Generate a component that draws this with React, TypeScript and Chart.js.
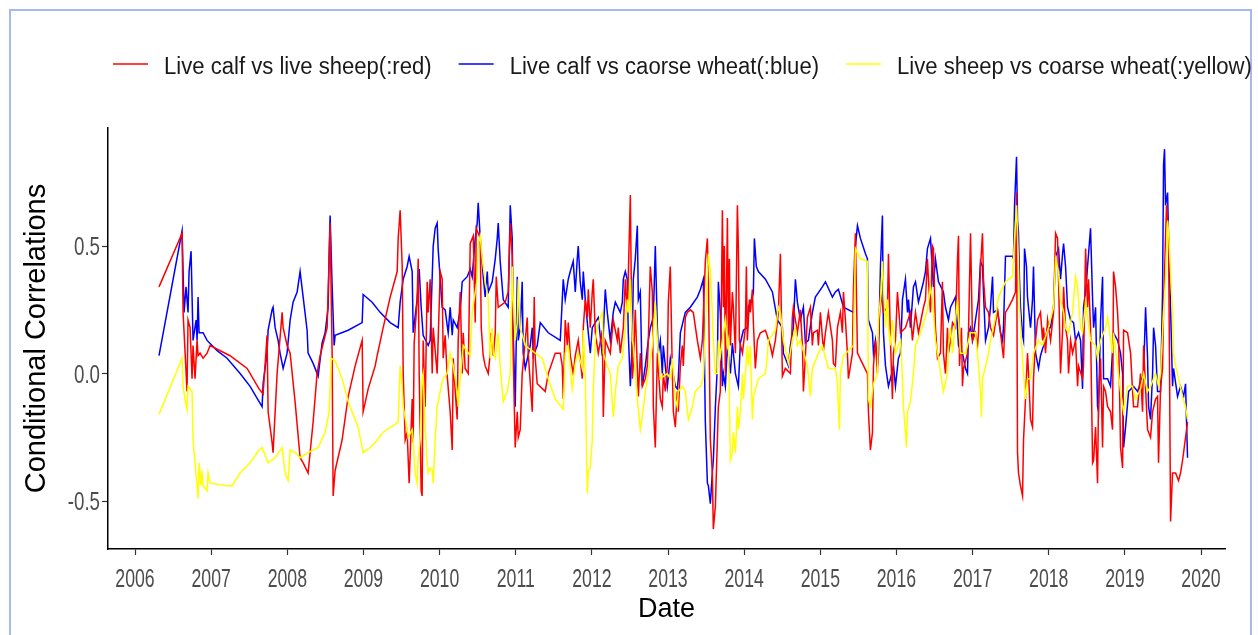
import React, { useEffect, useRef } from "react";
import { Chart, registerables } from "chart.js";

Chart.register(...registerables);

const legendLabels = [
  "Live calf vs live sheep(:red)",
  "Live calf vs caorse wheat(:blue)",
  "Live sheep vs coarse wheat(:yellow)",
];
const seriesColors = ["#ff0000", "#0000ff", "#ffff00"];
const xTickYears = [2006, 2007, 2008, 2009, 2010, 2011, 2012, 2013, 2014, 2015, 2016, 2017, 2018, 2019, 2020];
const yTickValues = [-0.5, 0, 0.5];

// Live calf vs live sheep (red)
const redDates = [
  2006.315, 2006.618, 2006.631, 2006.683, 2006.696, 2006.723, 2006.749, 2006.762, 2006.788, 2006.815, 2006.828, 2006.854, 2006.894, 2006.946, 2006.986,
  2007.248, 2007.472, 2007.629, 2007.682, 2007.734, 2007.748, 2007.8, 2007.813, 2007.866, 2007.932, 2007.945, 2007.997,
  2008.037, 2008.102, 2008.168, 2008.208, 2008.273, 2008.339, 2008.391, 2008.431, 2008.523, 2008.562, 2008.589, 2008.602, 2008.628, 2008.72, 2008.799, 2008.891, 2008.983, 2008.996,
  2009.062, 2009.154, 2009.18, 2009.259, 2009.351, 2009.443, 2009.456, 2009.482, 2009.509, 2009.522, 2009.548, 2009.574, 2009.6, 2009.64, 2009.653, 2009.666, 2009.705, 2009.719, 2009.732, 2009.758, 2009.771, 2009.784, 2009.811, 2009.837, 2009.85, 2009.876, 2009.903, 2009.916, 2009.968, 2009.981,
  2010.008, 2010.034, 2010.047, 2010.073, 2010.1, 2010.139, 2010.166, 2010.179, 2010.205, 2010.231, 2010.244, 2010.271, 2010.297, 2010.31, 2010.336, 2010.376, 2010.402, 2010.442, 2010.468, 2010.481, 2010.534, 2010.547, 2010.573, 2010.599, 2010.639, 2010.665, 2010.678, 2010.705, 2010.731, 2010.744, 2010.77, 2010.862, 2010.901, 2010.928, 2010.954, 2010.967, 2010.993,
  2011.02, 2011.033, 2011.059, 2011.085, 2011.125, 2011.151, 2011.164, 2011.217, 2011.243, 2011.256, 2011.282, 2011.387, 2011.427, 2011.519, 2011.585, 2011.611, 2011.624, 2011.65, 2011.677, 2011.69, 2011.716, 2011.755, 2011.782, 2011.821, 2011.874, 2011.887, 2011.913, 2011.94, 2011.953, 2011.979,
  2012.005, 2012.018, 2012.045, 2012.084, 2012.137, 2012.15, 2012.176, 2012.242, 2012.281, 2012.334, 2012.347, 2012.373, 2012.413, 2012.439, 2012.465, 2012.478, 2012.505, 2012.531, 2012.544, 2012.57, 2012.597, 2012.61, 2012.636, 2012.662, 2012.702, 2012.728, 2012.741, 2012.767, 2012.794, 2012.807, 2012.833, 2012.86, 2012.873, 2012.899, 2012.925, 2012.938, 2012.965, 2012.991,
  2013.004, 2013.03, 2013.057, 2013.07, 2013.096, 2013.122, 2013.135, 2013.162, 2013.188, 2013.201, 2013.227, 2013.254, 2013.293, 2013.332, 2013.385, 2013.425, 2013.451, 2013.49, 2013.517, 2013.53, 2013.556, 2013.582, 2013.595, 2013.622, 2013.648, 2013.661, 2013.687, 2013.714, 2013.727, 2013.74, 2013.753, 2013.78, 2013.793, 2013.806, 2013.819, 2013.845, 2013.858, 2013.885, 2013.911, 2013.924, 2013.937, 2013.977,
  2014.016, 2014.029, 2014.042, 2014.069, 2014.082, 2014.108, 2014.121, 2014.147, 2014.174, 2014.213, 2014.279, 2014.344, 2014.371, 2014.41, 2014.449, 2014.476, 2014.502, 2014.541, 2014.607, 2014.633, 2014.646, 2014.673, 2014.699, 2014.738, 2014.765, 2014.778, 2014.804, 2014.83, 2014.87, 2014.896, 2014.909, 2014.962, 2014.975,
  2015.001, 2015.041, 2015.067, 2015.106, 2015.159, 2015.172, 2015.198, 2015.225, 2015.264, 2015.29, 2015.304, 2015.33, 2015.356, 2015.369, 2015.396, 2015.422, 2015.435, 2015.461, 2015.488, 2015.553, 2015.619, 2015.632, 2015.658, 2015.685, 2015.698, 2015.724, 2015.75, 2015.763, 2015.79, 2015.829, 2015.882, 2015.895, 2015.921, 2015.947, 2015.961, 2015.987,
  2016.013, 2016.053, 2016.118, 2016.184, 2016.21, 2016.25, 2016.289, 2016.355, 2016.381, 2016.407, 2016.42, 2016.447, 2016.473, 2016.486, 2016.512, 2016.539, 2016.578, 2016.604, 2016.617, 2016.644, 2016.67, 2016.683, 2016.71, 2016.736, 2016.775, 2016.802, 2016.815, 2016.828, 2016.854, 2016.867, 2016.881, 2016.933, 2016.946, 2016.973, 2016.999,
  2017.038, 2017.065, 2017.078, 2017.104, 2017.13, 2017.143, 2017.17, 2017.209, 2017.235, 2017.275, 2017.327, 2017.367, 2017.406, 2017.432, 2017.472, 2017.524, 2017.564, 2017.577, 2017.59, 2017.603, 2017.629, 2017.656, 2017.669, 2017.695, 2017.721, 2017.735, 2017.761, 2017.787, 2017.8, 2017.827, 2017.853, 2017.892, 2017.919, 2017.932, 2017.958, 2017.985,
  2018.024, 2018.063, 2018.09, 2018.116, 2018.129, 2018.155, 2018.182, 2018.195, 2018.221, 2018.247, 2018.26, 2018.287, 2018.313, 2018.352, 2018.379, 2018.392, 2018.444, 2018.457, 2018.484, 2018.51, 2018.523, 2018.549, 2018.576, 2018.589, 2018.615, 2018.641, 2018.654, 2018.681, 2018.707, 2018.72, 2018.746, 2018.773, 2018.812, 2018.838, 2018.851, 2018.878, 2018.904, 2018.917, 2018.943, 2018.97, 2018.983,
  2019.035, 2019.075, 2019.101, 2019.114, 2019.167, 2019.206, 2019.232, 2019.246, 2019.272, 2019.298, 2019.337, 2019.364, 2019.403, 2019.429, 2019.442, 2019.469, 2019.495, 2019.508, 2019.534, 2019.547, 2019.574, 2019.587, 2019.6, 2019.626, 2019.666, 2019.705, 2019.731, 2019.758, 2019.784, 2019.823,
];
const redValues = [
  0.34, 0.55, 0.24, -0.07, 0.21, 0.18, -0.02, 0.11, -0.02, 0.13, 0.07, 0.08, 0.06, 0.08, 0.11,
  0.07, 0.02, -0.06, -0.08, 0.15, -0.15, -0.27, -0.31, 0.0, 0.24, 0.18, 0.11,
  0.08, -0.11, -0.33, -0.35, -0.39, -0.19, 0.0, 0.07, 0.18, 0.59, 0.07, -0.48, -0.38, -0.26, -0.09, 0.03, 0.13, -0.15,
  -0.06, 0.03, 0.07, 0.18, 0.3, 0.4, 0.53, 0.64, 0.42, 0.0, -0.26, -0.23, -0.43, -0.1, -0.27, 0.12, 0.29, 0.45, 0.0, -0.46, -0.48, 0.13, -0.13, 0.36, 0.24, 0.37, 0.0, 0.18, 0.0, 0.13,
  0.4, 0.37, 0.06, 0.15, -0.01, -0.15, -0.3, 0.06, -0.07, -0.18, 0.13, 0.32, 0.0, 0.16, 0.02, 0.0, 0.51, 0.54, 0.2, 0.57, 0.53, 0.18, 0.07, 0.03, 0.0, 0.08, 0.16, 0.07, 0.16, 0.38, 0.26, 0.28, 0.32, 0.59, 0.46, 0.07, -0.29,
  -0.15, -0.25, -0.22, 0.0, 0.13, 0.22, 0.08, -0.15, 0.3, 0.06, -0.04, -0.07, 0.0, 0.08, 0.08, 0.03, -0.1, 0.21, 0.11, 0.2, 0.07, 0.0, 0.07, 0.13, -0.02, 0.18, 0.29, 0.22, 0.33, 0.18,
  0.32, 0.37, 0.16, 0.08, 0.17, -0.17, 0.13, 0.08, 0.21, 0.13, 0.18, 0.08, 0.18, 0.37, 0.24, 0.38, 0.7, -0.02, 0.03, 0.25, 0.02, -0.09, 0.08, -0.05, -0.02, 0.03, 0.13, 0.42, 0.32, -0.13, -0.29, 0.08, 0.02, -0.1, -0.13, 0.0, -0.07, 0.03,
  0.28, 0.42, 0.0, -0.15, -0.21, -0.07, -0.15, 0.03, 0.11, 0.03, 0.22, 0.24, 0.25, 0.24, 0.13, 0.06, 0.13, 0.44, 0.53, 0.37, -0.26, -0.39, -0.61, -0.52, -0.26, -0.13, -0.07, 0.64, 0.26, 0.5, 0.0, 0.61, 0.13, 0.45, 0.11, 0.32, 0.26, 0.08, 0.66, 0.49, 0.13, 0.08,
  0.18, 0.42, 0.13, 0.29, 0.24, 0.33, 0.2, 0.02, 0.13, 0.16, 0.17, 0.11, 0.07, 0.13, 0.24, 0.47, -0.01, 0.02, 0.0, 0.22, 0.26, 0.21, 0.16, 0.25, 0.11, -0.07, 0.07, 0.22, 0.26, 0.11, 0.16, 0.17, 0.11,
  0.24, 0.09, 0.16, 0.24, 0.13, 0.04, 0.03, 0.18, 0.24, 0.16, 0.32, 0.21, 0.08, -0.02, 0.03, 0.08, 0.33, 0.55, 0.08, 0.04, 0.0, -0.15, -0.3, -0.23, 0.03, 0.13, 0.0, 0.13, 0.32, 0.24, 0.26, 0.47, 0.13, -0.1, 0.08, 0.13,
  0.32, 0.16, 0.18, 0.24, 0.13, 0.24, 0.16, 0.26, 0.29, 0.45, 0.37, 0.24, 0.5, 0.49, 0.18, 0.06, 0.08, 0.36, 0.08, 0.0, 0.18, 0.08, 0.13, 0.2, 0.18, 0.45, 0.54, 0.03, 0.18, -0.05, 0.02, 0.08, 0.16, 0.55, 0.13,
  0.16, 0.11, 0.16, 0.42, 0.55, 0.37, 0.26, 0.24, 0.18, 0.15, 0.25, 0.16, 0.06, 0.24, 0.26, 0.29, 0.32, 0.71, -0.31, -0.39, -0.44, -0.48, -0.26, -0.1, 0.08, 0.0, -0.18, -0.21, -0.02, 0.13, 0.21, 0.24, 0.13, 0.18, 0.08, 0.21,
  0.13, 0.24, 0.55, 0.53, 0.37, 0.0, 0.17, 0.34, 0.18, 0.13, 0.0, 0.13, 0.08, 0.13, -0.05, 0.03, -0.02, 0.03, 0.49, 0.26, 0.37, 0.18, -0.35, -0.34, -0.21, -0.43, -0.1, 0.06, -0.29, -0.05, -0.07, -0.13, -0.15, -0.22, 0.4, 0.34, 0.24, 0.16, -0.29, -0.37, 0.17,
  0.16, 0.08, -0.07, -0.13, -0.13, 0.0, -0.15, 0.11, -0.06, -0.22, -0.25, -0.15, -0.1, -0.09, -0.35, -0.05, 0.02, 0.26, 0.53, 0.66, 0.53, 0.0, -0.58, -0.39, -0.39, -0.42, -0.39, -0.34, -0.28, -0.19,
];

// Live calf vs coarse wheat (blue)
const blueDates = [
  2006.315, 2006.618, 2006.644, 2006.67, 2006.696, 2006.71, 2006.736, 2006.762, 2006.802, 2006.815, 2006.828, 2006.841, 2006.894, 2006.946,
  2007.012, 2007.078, 2007.209, 2007.38, 2007.511, 2007.629, 2007.669, 2007.682, 2007.734, 2007.748, 2007.8, 2007.813, 2007.84, 2007.879, 2007.905, 2007.945, 2007.997,
  2008.037, 2008.076, 2008.129, 2008.168, 2008.208, 2008.26, 2008.273, 2008.339, 2008.405, 2008.457, 2008.497, 2008.536, 2008.549, 2008.562, 2008.589, 2008.615, 2008.628, 2008.799, 2008.983, 2008.996,
  2009.114, 2009.219, 2009.351, 2009.456, 2009.482, 2009.522, 2009.574, 2009.6, 2009.64, 2009.653, 2009.705, 2009.732, 2009.758, 2009.784, 2009.85, 2009.876, 2009.916, 2009.942, 2009.968, 2009.981,
  2010.008, 2010.034, 2010.073, 2010.113, 2010.139, 2010.166, 2010.179, 2010.231, 2010.271, 2010.297, 2010.363, 2010.402, 2010.428, 2010.468, 2010.494, 2010.507, 2010.534, 2010.573, 2010.599, 2010.626, 2010.639, 2010.691, 2010.731, 2010.757, 2010.77, 2010.796, 2010.836, 2010.901, 2010.928, 2010.954, 2010.967, 2010.993,
  2011.02, 2011.033, 2011.059, 2011.085, 2011.098, 2011.125, 2011.19, 2011.217, 2011.23, 2011.282, 2011.322, 2011.427, 2011.585, 2011.611, 2011.624, 2011.65, 2011.69, 2011.716, 2011.755, 2011.782, 2011.808, 2011.821, 2011.847, 2011.874, 2011.887, 2011.913, 2011.94, 2011.979,
  2012.005, 2012.084, 2012.137, 2012.176, 2012.202, 2012.242, 2012.281, 2012.308, 2012.373, 2012.4, 2012.413, 2012.439, 2012.465, 2012.478, 2012.505, 2012.531, 2012.544, 2012.57, 2012.597, 2012.61, 2012.636, 2012.662, 2012.702, 2012.741, 2012.767, 2012.807, 2012.833, 2012.86, 2012.873, 2012.899, 2012.925, 2012.938, 2012.991,
  2013.03, 2013.096, 2013.122, 2013.135, 2013.162, 2013.227, 2013.293, 2013.385, 2013.425, 2013.464, 2013.49, 2013.517, 2013.53, 2013.556, 2013.582, 2013.595, 2013.622, 2013.648, 2013.661, 2013.687, 2013.714, 2013.727, 2013.753, 2013.78, 2013.819, 2013.845, 2013.885, 2013.924, 2013.95, 2013.99,
  2014.042, 2014.055, 2014.108, 2014.121, 2014.134, 2014.16, 2014.187, 2014.279, 2014.371, 2014.436, 2014.502, 2014.515, 2014.581, 2014.607, 2014.646, 2014.673, 2014.699, 2014.738, 2014.778, 2014.804, 2014.843, 2014.896, 2014.935,
  2015.027, 2015.067, 2015.159, 2015.198, 2015.238, 2015.304, 2015.435, 2015.461, 2015.488, 2015.527, 2015.593, 2015.619, 2015.632, 2015.685, 2015.698, 2015.724, 2015.75, 2015.763, 2015.79, 2015.816, 2015.829, 2015.856, 2015.895, 2015.921, 2015.961, 2015.987,
  2016.026, 2016.053, 2016.079, 2016.118, 2016.145, 2016.158, 2016.184, 2016.223, 2016.25, 2016.289, 2016.355, 2016.381, 2016.407, 2016.447, 2016.473, 2016.486, 2016.512, 2016.552, 2016.617, 2016.644, 2016.683, 2016.71, 2016.775, 2016.802, 2016.815, 2016.867, 2016.907, 2016.933, 2016.946, 2016.973, 2016.999,
  2017.038, 2017.078, 2017.104, 2017.13, 2017.143, 2017.17, 2017.209, 2017.235, 2017.262, 2017.275, 2017.327, 2017.367, 2017.393, 2017.406, 2017.432, 2017.524, 2017.537, 2017.551, 2017.577, 2017.59, 2017.603, 2017.616, 2017.629, 2017.656, 2017.669, 2017.682, 2017.708, 2017.721, 2017.761, 2017.787, 2017.8, 2017.827, 2017.866, 2017.892, 2017.932, 2017.985,
  2018.024, 2018.063, 2018.09, 2018.129, 2018.155, 2018.182, 2018.195, 2018.221, 2018.247, 2018.287, 2018.326, 2018.352, 2018.392, 2018.418, 2018.444, 2018.457, 2018.484, 2018.51, 2018.549, 2018.576, 2018.589, 2018.615, 2018.641, 2018.654, 2018.681, 2018.707, 2018.72, 2018.773, 2018.812, 2018.851, 2018.904, 2018.943, 2018.97, 2018.983,
  2019.009, 2019.049, 2019.114, 2019.167, 2019.246, 2019.272, 2019.298, 2019.311, 2019.337, 2019.364, 2019.377, 2019.403, 2019.429, 2019.469, 2019.495, 2019.508, 2019.521, 2019.534, 2019.561, 2019.574, 2019.6, 2019.626, 2019.639, 2019.692, 2019.731, 2019.771, 2019.797, 2019.81, 2019.823,
];
const blueValues = [
  0.07, 0.56, 0.24, 0.34, 0.24, 0.4, 0.48, 0.13, 0.21, 0.13, 0.3, 0.16, 0.16, 0.13,
  0.11, 0.09, 0.06, 0.0, -0.05, -0.11, -0.13, -0.04, 0.08, 0.17, 0.25, 0.26, 0.18, 0.13, 0.08, 0.02, 0.08,
  0.21, 0.28, 0.32, 0.4, 0.3, 0.17, 0.08, 0.04, -0.01, 0.12, 0.16, 0.26, 0.46, 0.62, 0.34, 0.11, 0.15, 0.17, 0.2, 0.31,
  0.28, 0.24, 0.2, 0.18, 0.28, 0.37, 0.42, 0.46, 0.4, 0.16, 0.29, 0.41, 0.26, 0.15, 0.11, 0.13, 0.5, 0.57, 0.59, 0.49,
  0.37, 0.26, 0.25, 0.16, 0.26, 0.15, 0.21, 0.18, 0.25, 0.36, 0.38, 0.41, 0.38, 0.53, 0.59, 0.67, 0.53, 0.38, 0.3, 0.4, 0.32, 0.36, 0.45, 0.53, 0.59, 0.44, 0.29, 0.26, 0.66, 0.53, 0.16, -0.13,
  0.38, 0.13, 0.18, 0.36, 0.08, 0.02, 0.11, 0.18, 0.07, 0.11, 0.2, 0.16, 0.13, 0.29, 0.37, 0.29, 0.37, 0.4, 0.44, 0.32, 0.45, 0.5, 0.36, 0.29, 0.4, 0.29, 0.2, 0.08,
  0.18, 0.22, 0.07, 0.33, 0.24, 0.13, 0.24, 0.28, 0.24, 0.28, 0.37, 0.4, 0.37, 0.16, -0.05, 0.13, 0.37, 0.45, 0.58, 0.29, 0.32, -0.05, 0.03, 0.13, 0.18, 0.22, 0.5, 0.18, 0.08, 0.13, 0.0, 0.11, -0.05,
  0.06, -0.05, -0.06, -0.02, 0.16, 0.24, 0.26, 0.3, 0.33, 0.37, -0.19, -0.43, -0.44, -0.51, -0.39, -0.34, -0.13, 0.03, 0.36, 0.24, -0.05, 0.0, -0.05, 0.11, 0.0, 0.12, 0.0, -0.05, 0.12, 0.17,
  0.18, 0.26, 0.3, 0.32, 0.53, 0.42, 0.4, 0.37, 0.32, 0.21, 0.18, 0.08, 0.03, 0.11, 0.18, 0.37, 0.28, 0.21, 0.26, 0.12, 0.13, 0.24, 0.3,
  0.34, 0.36, 0.3, 0.32, 0.33, 0.26, 0.24, 0.5, 0.58, 0.53, 0.47, 0.45, 0.21, 0.16, 0.08, 0.13, 0.03, 0.07, 0.42, 0.62, 0.16, 0.03, -0.05, -0.02, 0.03, -0.05,
  0.06, 0.08, 0.29, 0.37, 0.24, 0.29, 0.18, 0.34, 0.36, 0.28, 0.36, 0.4, 0.49, 0.53, 0.4, 0.34, 0.45, 0.36, 0.32, 0.26, 0.21, 0.26, 0.3, 0.18, 0.11, 0.08, 0.02, 0.0, 0.16, 0.18, 0.13,
  0.21, 0.29, 0.44, 0.42, 0.32, 0.13, 0.18, 0.26, 0.38, 0.24, 0.25, 0.16, 0.13, 0.18, 0.46, 0.46, 0.45, 0.66, 0.85, 0.6, 0.55, 0.37, 0.26, 0.15, 0.13, 0.49, 0.42, 0.3, 0.18, 0.29, 0.42, 0.08, 0.02, 0.07, 0.11, 0.18,
  0.18, 0.26, 0.46, 0.49, 0.37, 0.47, 0.51, 0.42, 0.26, 0.21, 0.2, 0.13, 0.16, 0.13, -0.06, 0.26, 0.32, 0.42, 0.57, 0.29, 0.18, 0.26, -0.13, -0.15, 0.21, 0.38, -0.02, -0.02, -0.05, 0.16, 0.13, 0.08, 0.0, -0.29,
  -0.21, -0.07, -0.05, -0.07, 0.0, 0.26, 0.06, -0.13, -0.18, 0.0, 0.18, 0.11, -0.07, -0.07, 0.32, 0.82, 0.88, 0.66, 0.71, 0.53, 0.26, -0.05, 0.02, -0.09, -0.05, -0.09, -0.04, -0.19, -0.33,
];

// Live sheep vs coarse wheat (yellow)
const yellowDates = [
  2006.315, 2006.618, 2006.631, 2006.657, 2006.683, 2006.696, 2006.749, 2006.762, 2006.788, 2006.815, 2006.828, 2006.841, 2006.867, 2006.88, 2006.894, 2006.946, 2006.959, 2006.986,
  2007.209, 2007.275, 2007.38, 2007.511, 2007.629, 2007.669, 2007.748, 2007.84, 2007.932, 2007.971,
  2008.011, 2008.037, 2008.102, 2008.168, 2008.273, 2008.405, 2008.497, 2008.549, 2008.576, 2008.628, 2008.72, 2008.799, 2008.93, 2008.996,
  2009.088, 2009.154, 2009.259, 2009.456, 2009.482, 2009.509, 2009.522, 2009.574, 2009.587, 2009.64, 2009.653, 2009.679, 2009.705, 2009.719, 2009.745, 2009.771, 2009.784, 2009.811, 2009.837, 2009.85, 2009.876, 2009.903, 2009.916, 2009.942, 2009.968,
  2010.008, 2010.047, 2010.1, 2010.139, 2010.179, 2010.231, 2010.244, 2010.271, 2010.31, 2010.402, 2010.428, 2010.494, 2010.507, 2010.534, 2010.56, 2010.599, 2010.639, 2010.665, 2010.691, 2010.705, 2010.731, 2010.77, 2010.796, 2010.836, 2010.888, 2010.928, 2010.954, 2010.967, 2010.993,
  2011.02, 2011.033, 2011.059, 2011.125, 2011.256, 2011.348, 2011.427, 2011.519, 2011.624, 2011.65, 2011.69, 2011.742, 2011.782, 2011.821, 2011.874, 2011.887, 2011.913, 2011.94, 2011.953, 2011.979,
  2012.005, 2012.018, 2012.045, 2012.084, 2012.137, 2012.15, 2012.202, 2012.242, 2012.281, 2012.308, 2012.347, 2012.4, 2012.439, 2012.465, 2012.478, 2012.505, 2012.531, 2012.544, 2012.57, 2012.597, 2012.636, 2012.662, 2012.702, 2012.741, 2012.794, 2012.833, 2012.86, 2012.899, 2012.991,
  2013.03, 2013.057, 2013.096, 2013.122, 2013.135, 2013.188, 2013.227, 2013.267, 2013.319, 2013.359, 2013.425, 2013.464, 2013.517, 2013.53, 2013.556, 2013.582, 2013.595, 2013.622, 2013.648, 2013.661, 2013.687, 2013.727, 2013.753, 2013.78, 2013.793, 2013.819, 2013.845, 2013.858, 2013.885, 2013.911, 2013.924, 2013.95, 2013.977, 2013.99,
  2014.016, 2014.042, 2014.055, 2014.082, 2014.108, 2014.121, 2014.187, 2014.279, 2014.305, 2014.318, 2014.41, 2014.449, 2014.476, 2014.515, 2014.581, 2014.633, 2014.673, 2014.699, 2014.738, 2014.804, 2014.83, 2014.87, 2014.896, 2014.975,
  2015.027, 2015.106, 2015.198, 2015.225, 2015.251, 2015.264, 2015.304, 2015.435, 2015.461, 2015.527, 2015.619, 2015.632, 2015.658, 2015.698, 2015.75, 2015.763, 2015.79, 2015.816, 2015.829, 2015.856, 2015.882, 2015.895, 2015.921, 2015.947, 2015.987,
  2016.053, 2016.079, 2016.092, 2016.118, 2016.131, 2016.145, 2016.184, 2016.223, 2016.25, 2016.315, 2016.407, 2016.447, 2016.473, 2016.512, 2016.552, 2016.617, 2016.67, 2016.683, 2016.71, 2016.736, 2016.775, 2016.802, 2016.841, 2016.907, 2016.973,
  2017.038, 2017.078, 2017.104, 2017.117, 2017.13, 2017.196, 2017.235, 2017.301, 2017.34, 2017.432, 2017.524, 2017.551, 2017.577, 2017.59, 2017.603, 2017.616, 2017.656, 2017.695, 2017.721, 2017.761, 2017.8, 2017.866, 2017.919, 2017.997,
  2018.063, 2018.09, 2018.129, 2018.155, 2018.195, 2018.221, 2018.26, 2018.313, 2018.352, 2018.379, 2018.418, 2018.444, 2018.484, 2018.549, 2018.615, 2018.641, 2018.681, 2018.746, 2018.773, 2018.838, 2018.851, 2018.904, 2018.943, 2018.983,
  2019.035, 2019.101, 2019.14, 2019.206, 2019.246, 2019.298, 2019.337, 2019.403, 2019.442, 2019.469, 2019.495, 2019.508, 2019.534, 2019.561, 2019.574, 2019.6, 2019.626, 2019.639, 2019.666, 2019.705, 2019.758, 2019.797, 2019.823,
];
const yellowValues = [
  -0.16, 0.06, -0.05, -0.1, -0.14, -0.05, -0.07, -0.26, -0.35, -0.44, -0.49, -0.35, -0.44, -0.38, -0.44, -0.46, -0.39, -0.43,
  -0.44, -0.44, -0.39, -0.35, -0.3, -0.29, -0.35, -0.33, -0.29, -0.39,
  -0.42, -0.3, -0.31, -0.33, -0.31, -0.29, -0.23, -0.15, 0.06, 0.05, -0.02, -0.11, -0.21, -0.31,
  -0.29, -0.27, -0.23, -0.19, 0.03, -0.05, -0.13, -0.22, -0.25, -0.22, -0.26, -0.39, -0.43, -0.33, -0.26, -0.02, 0.0, -0.21, -0.35, -0.39, -0.37, -0.38, -0.43, -0.26, -0.13,
  -0.07, -0.02, 0.0, 0.08, 0.03, -0.07, -0.13, -0.02, 0.11, 0.07, 0.24, 0.37, 0.51, 0.54, 0.45, 0.36, 0.29, 0.06, 0.18, 0.08, 0.06, 0.16, 0.03, -0.11, -0.07, 0.0, 0.42, 0.29, 0.13,
  0.2, 0.37, 0.18, 0.11, 0.08, 0.06, -0.02, -0.1, -0.14, 0.08, 0.11, -0.06, 0.04, 0.08, 0.02, 0.17, 0.0, -0.47, -0.38, -0.37,
  -0.26, -0.07, 0.13, 0.2, 0.24, 0.08, 0.03, 0.0, -0.17, -0.07, 0.03, 0.06, 0.17, 0.29, 0.24, 0.37, 0.13, 0.11, 0.0, -0.1, -0.22, -0.17, -0.07, 0.0, 0.11, 0.28, 0.13, -0.02, 0.0,
  -0.02, 0.06, -0.1, -0.13, -0.07, -0.05, -0.07, -0.18, -0.13, -0.07, -0.05, -0.02, 0.37, 0.47, 0.4, 0.24, 0.13, 0.0, 0.0, 0.13, 0.07, 0.16, 0.21, 0.11, 0.13, -0.34, -0.31, -0.23, -0.31, -0.13, -0.22, -0.15, 0.0, -0.1,
  0.0, 0.11, 0.03, 0.11, -0.18, -0.09, -0.02, 0.0, 0.07, 0.13, 0.17, 0.26, 0.24, 0.13, 0.04, 0.13, 0.18, 0.11, 0.13, 0.06, 0.03, -0.09, 0.02, 0.08,
  0.11, 0.02, 0.02, -0.04, -0.22, 0.0, 0.07, 0.11, 0.49, 0.45, 0.44, -0.1, -0.13, -0.04, 0.0, 0.21, 0.29, 0.44, 0.34, 0.18, 0.29, 0.18, 0.11, 0.21, 0.08,
  0.13, -0.02, -0.13, -0.23, -0.29, -0.15, -0.11, 0.0, 0.11, 0.16, 0.25, 0.34, 0.29, 0.13, 0.06, -0.07, 0.0, 0.11, 0.18, 0.08, 0.21, 0.29, 0.08, 0.08, 0.16,
  0.16, 0.03, -0.07, -0.17, -0.02, 0.06, 0.13, 0.22, 0.3, 0.36, 0.38, 0.53, 0.66, 0.55, 0.42, 0.26, 0.06, -0.1, -0.02, -0.02, 0.08, 0.13, 0.11, 0.18,
  0.26, 0.45, 0.4, 0.29, 0.24, 0.18, 0.16, 0.24, 0.38, 0.34, 0.18, 0.16, 0.28, 0.13, 0.11, 0.06, 0.13, 0.18, 0.22, 0.08, 0.16, 0.03, -0.07, -0.15,
  -0.05, -0.05, -0.1, -0.06, 0.0, -0.07, -0.05, 0.0, -0.05, 0.0, 0.16, 0.24, 0.37, 0.6, 0.55, 0.4, 0.24, 0.08, 0.03, -0.02, -0.09, -0.13, -0.18,
];

const FONT = "'Liberation Sans', Arial, Helvetica, sans-serif";

const toPoints = (dates: number[], values: number[]) =>
  dates.map((d, i) => ({ x: d, y: values[i] }));

const framePlugin = {
  id: "frame",
  beforeDraw(chart: any) {
    const { ctx, width, height } = chart;
    ctx.save();
    ctx.fillStyle = "#ffffff";
    ctx.fillRect(0, 0, width, height);
    ctx.restore();
  },
  afterDraw(chart: any) {
    const { ctx, width, height } = chart;
    ctx.save();
    ctx.strokeStyle = "#a7b8ee";
    ctx.lineWidth = 2;
    ctx.beginPath();
    ctx.moveTo(10, height);
    ctx.lineTo(10, 10);
    ctx.lineTo(width - 7, 10);
    ctx.lineTo(width - 7, height);
    ctx.stroke();
    ctx.restore();
  },
};

// Narrow, tall tick labels placed at the scales' own tick pixels
const tickLabelPlugin = {
  id: "narrowTickLabels",
  afterDraw(chart: any) {
    const { ctx } = chart;
    const xs = chart.scales.x;
    const ys = chart.scales.y;
    ctx.save();
    ctx.fillStyle = "#4d4d4d";
    ctx.font = `26px ${FONT}`;
    ctx.textBaseline = "alphabetic";
    ctx.textAlign = "center";
    xs.ticks.forEach((t: any) => {
      const px = xs.getPixelForValue(t.value);
      ctx.save();
      ctx.translate(px, xs.top + 38);
      ctx.scale(0.68, 1);
      ctx.fillText(String(t.value), 0, 0);
      ctx.restore();
    });
    ctx.textAlign = "right";
    ys.ticks.forEach((t: any) => {
      const py = ys.getPixelForValue(t.value);
      ctx.save();
      ctx.translate(ys.right - 8, py + 9);
      ctx.scale(0.72, 1);
      ctx.fillText(Number(t.value).toFixed(1), 0, 0);
      ctx.restore();
    });
    ctx.restore();
  },
};

const legendPlugin = {
  id: "topLegend",
  afterDraw(chart: any) {
    const { ctx } = chart;
    ctx.save();
    ctx.font = `23.5px ${FONT}`;
    ctx.textBaseline = "alphabetic";
    const sx = 0.94;
    const lineLen = 35;
    const gapText = 16;
    const gapItem = 27;
    let x = 113;
    legendLabels.forEach((label, i) => {
      ctx.strokeStyle = seriesColors[i];
      ctx.lineWidth = 1.6;
      ctx.beginPath();
      ctx.moveTo(x, 64);
      ctx.lineTo(x + lineLen, 64);
      ctx.stroke();
      ctx.fillStyle = "#1a1a1a";
      const tx = x + lineLen + gapText;
      ctx.save();
      ctx.translate(tx, 74);
      ctx.scale(sx, 1);
      ctx.fillText(label, 0, 0);
      ctx.restore();
      x = tx + ctx.measureText(label).width * sx + gapItem;
    });
    ctx.restore();
  },
};

export default function App() {
  const canvasRef = useRef<HTMLCanvasElement | null>(null);

  useEffect(() => {
    const canvas = canvasRef.current;
    if (!canvas) return;
    const axisGrid = {
      display: true,
      drawOnChartArea: false,
      drawTicks: true,
      tickLength: 6,
      color: "#333333",
      tickWidth: 1.2,
    };
    const axisBorder = { display: true, color: "#000000", width: 1.5 };
    const chart = new Chart(canvas, {
      type: "line",
      data: {
        datasets: [
          { label: legendLabels[0], data: toPoints(redDates, redValues), borderColor: seriesColors[0], order: 1 },
          { label: legendLabels[1], data: toPoints(blueDates, blueValues), borderColor: seriesColors[1], order: 2 },
          { label: legendLabels[2], data: toPoints(yellowDates, yellowValues), borderColor: seriesColors[2], order: 0 },
        ],
      },
      options: {
        animation: false,
        responsive: false,
        maintainAspectRatio: false,
        elements: {
          line: { borderWidth: 1.5, tension: 0, fill: false },
          point: { radius: 0, hoverRadius: 0 },
        },
        layout: { padding: { top: 128, left: 10, right: 33, bottom: 0 } },
        plugins: { legend: { display: false }, tooltip: { enabled: false } },
        scales: {
          x: {
            type: "linear",
            min: 2005.645,
            max: 2020.315,
            afterBuildTicks: (s: any) => {
              s.ticks = xTickYears.map((v) => ({ value: v }));
            },
            afterFit: (s: any) => {
              s.height = 86;
            },
            ticks: { display: false, autoSkip: false, maxRotation: 0 },
            grid: axisGrid,
            border: axisBorder,
            title: {
              display: true,
              text: "Date",
              color: "#000000",
              font: { family: FONT, size: 27, lineHeight: 1.2 },
              padding: { top: 0, bottom: 9 },
            },
          },
          y: {
            type: "linear",
            min: -0.688,
            max: 0.963,
            afterBuildTicks: (s: any) => {
              s.ticks = yTickValues.map((v) => ({ value: v }));
            },
            afterFit: (s: any) => {
              s.width = 98;
            },
            ticks: { display: false },
            grid: axisGrid,
            border: axisBorder,
            title: {
              display: true,
              text: "Conditional Correlations",
              color: "#000000",
              font: { family: FONT, size: 29, lineHeight: 1.2 },
              padding: { top: 10, bottom: 0 },
            },
          },
        },
      },
      plugins: [framePlugin, tickLabelPlugin, legendPlugin],
    });
    return () => chart.destroy();
  }, []);

  return (
    <div style={{ position: "fixed", left: 0, top: 0, width: 1258, height: 635, background: "#ffffff" }}>
      <canvas ref={canvasRef} width={1258} height={635} style={{ width: 1258, height: 635, display: "block" }} />
    </div>
  );
}
